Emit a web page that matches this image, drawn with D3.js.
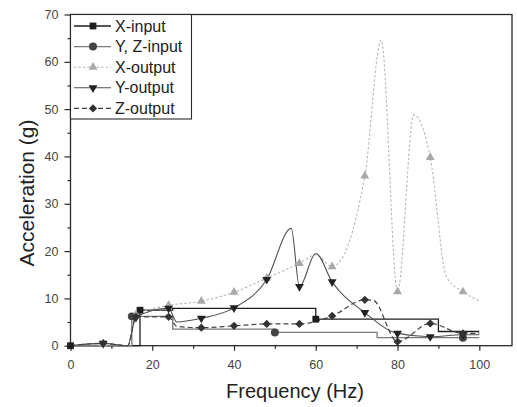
<!DOCTYPE html>
<html>
<head>
<meta charset="utf-8">
<script src="https://cdn.jsdelivr.net/npm/d3@7"></script>
<style>
  html, body { margin: 0; padding: 0; background: #fff; }
  svg { display: block; font-family: Arial, "Liberation Sans", sans-serif; }
</style>
</head>
<body>
<svg id="chart" width="517" height="407"></svg>
<script>
// ---- Input levels (step profiles), frequency in Hz, acceleration in g ----
const xInputFreq = [0, 17, 17, 25, 25, 60, 60, 90, 90, 100];
const xInputAcc  = [0, 0, 7.5, 7.5, 7.9, 7.9, 5.6, 5.6, 3.0, 3.0];
const xInputMarks = [0, 17, 60];

const yzInputFreq = [0, 15, 15, 25, 25, 50, 50, 75, 75, 100];
const yzInputAcc  = [0, 0, 6.2, 6.2, 3.5, 3.5, 2.8, 2.8, 1.7, 1.7];
const yzInputMarks = [15, 50, 96];

// ---- Measured responses ----
const xOutFreq = [0, 8, 14, 16, 24, 32, 40, 48, 56, 60, 64, 72, 76, 80, 84, 88, 92, 96, 100];
const xOutAcc  = [0, 0.5, 0, 6.5, 8.5, 9.4, 11.3, 14.3, 17.4, 19.2, 16.7, 35.9, 64.6, 11.4, 48.8, 39.8, 14.5, 11.4, 9.5];

const yOutFreq = [0, 8, 14, 16, 24, 26, 32, 40, 48, 54, 56, 60, 64, 72, 80, 88, 96, 100];
const yOutAcc  = [0, 0.5, 0, 6.0, 7.9, 5.0, 5.8, 8.0, 14.0, 24.8, 12.5, 19.5, 13.5, 7.0, 2.6, 1.9, 2.3, 2.3];

const zOutFreq = [0, 8, 14, 16, 24, 26, 32, 40, 48, 56, 64, 72, 74, 80, 88, 96, 100];
const zOutAcc  = [0, 0.5, 0, 6.1, 6.1, 4.1, 3.8, 4.2, 4.6, 4.6, 6.3, 9.7, 9.6, 0.85, 4.7, 2.6, 2.6];

// measurement frequencies that carry a symbol on the response curves
const outputMarks = [8, 16, 24, 32, 40, 48, 56, 64, 72, 80, 88, 96];

// ---- Axis ticks ----
const xTicks = [0, 20, 40, 60, 80, 100];
const xMinorTicks = [10, 30, 50, 70, 90];
const yTicks = [0, 10, 20, 30, 40, 50, 60, 70];
const yMinorTicks = [5, 15, 25, 35, 45, 55, 65];

const legendLabels = ["X-input", "Y, Z-input", "X-output", "Y-output", "Z-output"];

// ---- Layout ----
const svg = d3.select("#chart");
const plotLeft = 70.5, plotRight = 512, plotTop = 14.5, plotBottom = 345.7;

const x = d3.scaleLinear().domain([0, 108]).range([plotLeft, plotRight]);
const y = d3.scaleLinear().domain([0, 70]).range([plotBottom, plotTop]);

const zip = (fs, vs) => fs.map((f, i) => ({ f, v: vs[i] }));
const stepValue = (fs, vs, f) => {
  let idx = 0;
  fs.forEach((ff, i) => { if (ff <= f) idx = i; });
  return vs[idx];
};

const diamond = {
  draw(ctx, size) {
    const r = Math.sqrt(size / 2);
    ctx.moveTo(0, -r); ctx.lineTo(r, 0); ctx.lineTo(0, r); ctx.lineTo(-r, 0); ctx.closePath();
  }
};
const downTriangle = {
  draw(ctx, size) {
    const s = Math.sqrt(size * 4 / Math.sqrt(3));
    const h = s * Math.sqrt(3) / 2;
    ctx.moveTo(-s / 2, -h / 3); ctx.lineTo(s / 2, -h / 3); ctx.lineTo(0, 2 * h / 3); ctx.closePath();
  }
};

const series = [
  { name: legendLabels[0], pts: zip(xInputFreq, xInputAcc),
    marks: xInputMarks.map(f => ({ f, v: stepValue(xInputFreq, xInputAcc, f) })),
    stroke: "#1e1e1e", dash: null, width: 1.3, curve: d3.curveLinear,
    sym: d3.symbolSquare, size: 46, fill: "#1e1e1e" },
  { name: legendLabels[1], pts: zip(yzInputFreq, yzInputAcc),
    marks: yzInputMarks.map(f => ({ f, v: stepValue(yzInputFreq, yzInputAcc, f) })),
    stroke: "#7a7a7a", dash: null, width: 1.3, curve: d3.curveLinear,
    sym: d3.symbolCircle, size: 50, fill: "#444" },
  { name: legendLabels[2], pts: zip(xOutFreq, xOutAcc),
    stroke: "#b6b6b6", dash: "2.5,2", width: 1.1, curve: d3.curveMonotoneX,
    sym: d3.symbolTriangle, size: 34, fill: "#a8a8a8" },
  { name: legendLabels[3], pts: zip(yOutFreq, yOutAcc),
    stroke: "#505050", dash: null, width: 1.1, curve: d3.curveMonotoneX,
    sym: downTriangle, size: 34, fill: "#222" },
  { name: legendLabels[4], pts: zip(zOutFreq, zOutAcc),
    stroke: "#444", dash: "5,3", width: 1.2, curve: d3.curveMonotoneX,
    sym: diamond, size: 34, fill: "#333" }
];
series.forEach(s => {
  if (!s.marks) s.marks = s.pts.filter(p => outputMarks.includes(p.f));
});

// ---- Axes ----
const axisColor = "#2a2a2a";

const gx = svg.append("g").attr("transform", `translate(0,${plotBottom})`);
gx.call(d3.axisBottom(x).tickValues(xTicks).tickSize(5).tickPadding(9).tickFormat(d3.format("d")));
gx.append("g").call(d3.axisBottom(x).tickValues(xMinorTicks).tickSize(3).tickFormat(""));

const gy = svg.append("g").attr("transform", `translate(${plotLeft},0)`);
gy.call(d3.axisLeft(y).tickValues(yTicks).tickSize(6).tickPadding(6).tickFormat(d3.format("d")));
gy.append("g").call(d3.axisLeft(y).tickValues(yMinorTicks).tickSize(3).tickFormat(""));

[gx, gy].forEach(g => {
  g.selectAll(".domain").remove();
  g.selectAll("line").attr("stroke", axisColor).attr("stroke-width", 1.2);
  g.selectAll("text").attr("fill", "#444").style("font-size", "12.5px")
    .style("font-family", 'Arial, "Liberation Sans", sans-serif');
});

// plot frame
svg.append("rect")
  .attr("x", plotLeft).attr("y", plotTop)
  .attr("width", plotRight - plotLeft).attr("height", plotBottom - plotTop)
  .attr("fill", "none").attr("stroke", axisColor).attr("stroke-width", 1.3);

// ---- Curves ----
const plot = svg.append("g");
series.forEach(s => {
  plot.append("path")
    .datum(s.pts)
    .attr("fill", "none")
    .attr("stroke", s.stroke)
    .attr("stroke-width", s.width)
    .attr("stroke-dasharray", s.dash)
    .attr("d", d3.line().x(d => x(d.f)).y(d => y(d.v)).curve(s.curve));
});
series.forEach(s => {
  plot.selectAll(null)
    .data(s.marks)
    .join("path")
    .attr("transform", d => `translate(${x(d.f)},${y(d.v)})`)
    .attr("d", d3.symbol().type(s.sym).size(s.size))
    .attr("fill", s.fill);
});

// ---- Legend ----
const legend = svg.append("g");
legend.append("rect")
  .attr("x", plotLeft).attr("y", plotTop)
  .attr("width", 121).attr("height", 104.5)
  .attr("fill", "#fff").attr("stroke", axisColor).attr("stroke-width", 1.1);

series.forEach((s, i) => {
  const cy = 26 + i * 20.6;
  const row = legend.append("g");
  row.append("line")
    .attr("x1", 74).attr("x2", 111).attr("y1", cy).attr("y2", cy)
    .attr("stroke", s.stroke).attr("stroke-width", s.width)
    .attr("stroke-dasharray", s.dash);
  row.append("path")
    .attr("transform", `translate(93,${cy})`)
    .attr("d", d3.symbol().type(s.sym).size(s.size))
    .attr("fill", s.fill);
  row.append("text")
    .attr("x", 115).attr("y", cy + 5.6)
    .attr("fill", "#222")
    .style("font-size", "16px")
    .text(s.name);
});

// ---- Axis titles ----
svg.append("text")
  .attr("x", 295).attr("y", 397.5)
  .attr("text-anchor", "middle")
  .attr("fill", "#222")
  .style("font-size", "20px")
  .text("Frequency (Hz)");

svg.append("text")
  .attr("transform", "translate(33.5,193) rotate(-90)")
  .attr("text-anchor", "middle")
  .attr("fill", "#222")
  .style("font-size", "21px")
  .text("Acceleration (g)");
</script>
</body>
</html>
